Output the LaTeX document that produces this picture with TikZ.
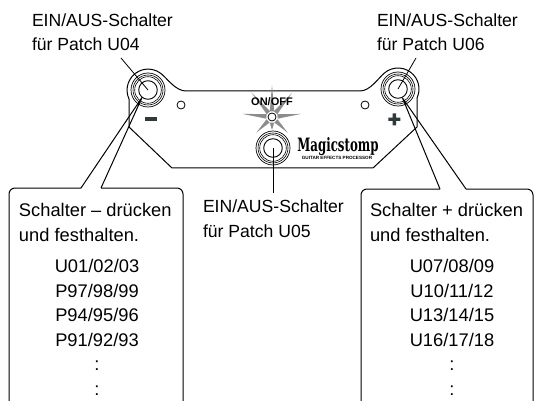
\documentclass[tikz,border=0pt]{standalone}
\usepackage{fontspec}
\setmainfont{Liberation Sans}
\newfontfamily\logofont{DejaVu Serif}
\usetikzlibrary{calc}
\definecolor{raygray}{gray}{0.55}
\definecolor{signgray}{HTML}{2F3A3A}
\begin{document}
\begin{tikzpicture}[x=1pt, y=-1pt, line join=round,
  every node/.style = {inner sep=0pt, outer sep=0pt},
  txt/.style = {font=\fontsize{17.6}{24.5}\selectfont, align=left},
  boxtxt/.style = {font=\fontsize{18.3}{24.5}\selectfont, align=left},
  lst/.style = {font=\fontsize{18.3}{24.5}\selectfont, align=center},
  jack/.style = {circle, draw, line width=0.7pt, minimum size=34pt},
  hole/.style = {circle, draw, line width=0.8pt, minimum size=8pt},
  panel/.style = {line width=1pt},
  bubble/.style = {line width=1pt},
  lead/.style = {line width=0.8pt}]
  \useasboundingbox (0,0) rectangle (541,401);

  % panel outline
  \draw[panel] (129,127) -- (129,99) arc[start angle=155, end angle=311, radius=21]
    .. controls (168,79.5) and (176,91) .. (186,91) -- (360,91)
    .. controls (370,91) and (378.2,78.4) .. (384.2,73.15)
    arc[start angle=229, end angle=385, radius=21]
    -- (417,127) -- (373,168) -- (172,168) -- cycle;

  % switches
  \node[jack] (swL) at (148,90) {};
  \node[jack] (swC) at (273,148) {};
  \node[jack] (swR) at (398,89) {};
  \foreach \s in {swL,swC,swR} {
    \draw[line width=0.6pt] (\s) circle[radius=15] (\s) circle[radius=13.3];
    \draw[line width=0.9pt] (\s) circle[radius=9.3];
  }
  \node[hole] (holeL) at (181,105) {};
  \node[hole] (holeR) at (365,105) {};

  % LED with rays
  \node[hole] (led) at (272,117) {};
  \foreach \a/\l in {270/32, 230/32, 310/31, 186/30, 354/29, 135/22, 45/22, 90/13}
    \fill[raygray] ($(led.center)+(\a-22:6)$) -- ($(led.center)+(\a:\l)$)
      -- ($(led.center)+(\a+22:6)$) -- cycle;
  \node[font=\bfseries\fontsize{11}{11}\selectfont] (onoff) at (272,102) {ON/OFF};

  % minus / plus
  \fill[signgray] (145,117.3) rectangle (157,120.8);
  \fill[signgray] (388.3,117.6) rectangle (400.3,121) (392.6,113.3) rectangle (396,125.3);

  % logo
  \node[font=\logofont\bfseries\fontsize{18.4}{18.4}\selectfont, xscale=0.64, anchor=base]
    (logo) at (338,151.5) {Magicstomp};
  \node[font=\bfseries\fontsize{4.6}{4.6}\selectfont, anchor=base]
    (sub) at (337,160) {GUITAR EFFECTS PROCESSOR};

  % labels (base = last line)
  \node[txt, anchor=base west] (topL) at (32,51) {EIN/AUS-Schalter\\für Patch U04};
  \node[txt, anchor=base west] (topR) at (377,51) {EIN/AUS-Schalter\\für Patch U06};
  \node[txt, anchor=base west] (midlbl) at (203,237) {EIN/AUS-Schalter\\für Patch U05};
  \coordinate (topLend) at (121,58);
  \coordinate (topRend) at (416,58);
  \coordinate (midend) at (273,193);
  \draw[lead] (topLend) -- (swL.center);
  \draw[lead] (topRend) -- (swR.center);
  \draw[lead] (swC.center) -- (midend);

  % callouts
  \coordinate (tipL) at (142,97.5);
  \coordinate (tipR) at (402.5,98);
  \draw[bubble, rounded corners=6] (9,401) -- (9,188) -- (81,188);
  \draw[bubble] (81,188) -- (tipL) -- (101,188);
  \draw[bubble, rounded corners=6] (101,188) -- (183,188) -- (183,401);
  \draw[bubble, rounded corners=6] (361,401) -- (361,189) -- (440,189);
  \draw[bubble] (440,189) -- (tipR) -- (466,189);
  \draw[bubble, rounded corners=6] (466,189) -- (533,189) -- (533,401);

  \node[boxtxt, anchor=base west] (headL) at (19,241) {Schalter – drücken\\und festhalten.};
  \node[lst, anchor=base] (listL) at (97,395) {U01/02/03\\P97/98/99\\P94/95/96\\P91/92/93\\:\\:};
  \node[boxtxt, anchor=base west] (headR) at (370,241) {Schalter + drücken\\und festhalten.};
  \node[lst, anchor=base] (listR) at (452,395) {U07/08/09\\U10/11/12\\U13/14/15\\U16/17/18\\:\\:};
\end{tikzpicture}
\end{document}
